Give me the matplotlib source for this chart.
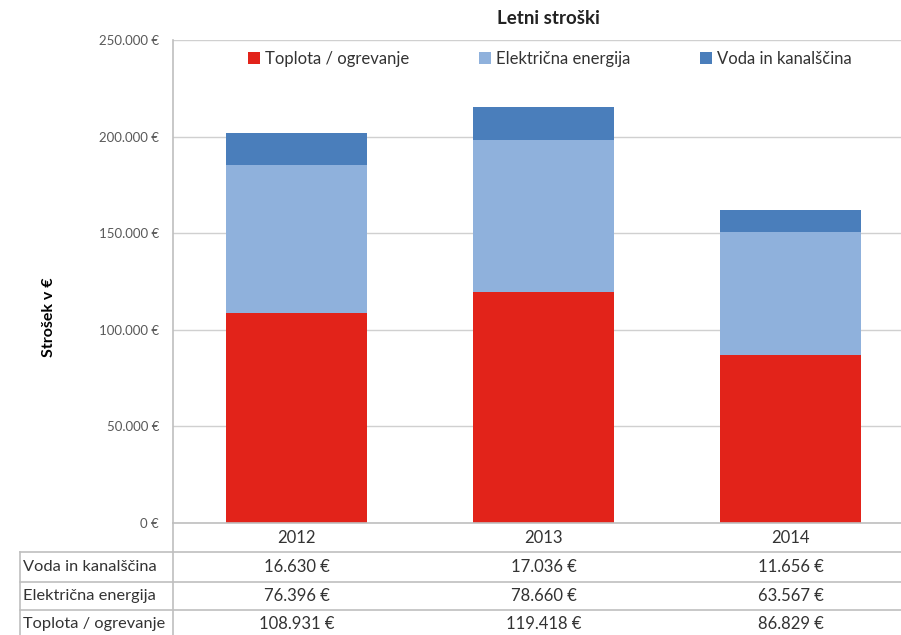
import numpy as np
import matplotlib.pyplot as plt
from matplotlib.ticker import FuncFormatter

plt.rcParams['font.family'] = ['Lato', 'DejaVu Sans']

# data
years = ['2012', '2013', '2014']
toplota = [108931, 119418, 86829]
elektrika = [76396, 78660, 63567]
voda = [16630, 17036, 11656]
series_names = ['Toplota / ogrevanje', 'Električna energija', 'Voda in kanalščina']
colors = ['#E2231A', '#8FB1DC', '#4A7EBB']

W, H = 901, 635
fig = plt.figure(figsize=(W / 100, H / 100), dpi=100)
# plot area in pixels: left 173, top 40, bottom 523, one category = 247 px
left, top, bottom = 173, 40, 523
right = left + 3 * 247
ax = fig.add_axes([left / W, (H - bottom) / H, (right - left) / W, (bottom - top) / H])

x = np.arange(len(years))
bw = 0.57
b1 = np.array(toplota)
b2 = b1 + np.array(elektrika)
ax.bar(x, toplota, bw, color=colors[0], label=series_names[0], zorder=3)
ax.bar(x, elektrika, bw, bottom=b1, color=colors[1], label=series_names[1], zorder=3)
ax.bar(x, voda, bw, bottom=b2, color=colors[2], label=series_names[2], zorder=3)

ax.set_xlim(-0.5, 2.5)
ax.set_ylim(0, 250000)
ax.set_yticks(np.arange(0, 250001, 50000))
fmt = lambda v, p: f"{int(v):,}".replace(",", ".") + " €"
ax.yaxis.set_major_formatter(FuncFormatter(fmt))
ax.tick_params(axis='y', length=0, pad=10, labelsize=9.5, labelcolor='#595959')
ax.set_xticks([])
ax.grid(axis='y', color='#D0D0D0', linewidth=1, zorder=0)
for s in ['top', 'right', 'bottom']:
    ax.spines[s].set_visible(False)
ax.spines['left'].set_color('#BFBFBF')
ax.spines['left'].set_linewidth(1.2)

ax.set_ylabel('Strošek v €', fontsize=11.5, fontweight='bold')
ax.yaxis.set_label_coords((56 - left) / (right - left), (bottom - 317) / (bottom - top))
fig.text(548 / W, 1 - 18 / H, 'Letni stroški', ha='center', va='center',
         fontsize=13.5, fontweight='bold', color='#222222')

leg = ax.legend(loc='upper center', ncol=3, frameon=False, fontsize=12,
                handlelength=0.7, handleheight=0.7, handletextpad=0.3,
                columnspacing=4.2, borderaxespad=0.2)
leg.set_bbox_to_anchor((550 / W, 1 - 41 / H), transform=fig.transFigure)
for t in leg.get_texts():
    t.set_color('#333333')

# data table below the plot
def fy(py):
    return 1 - py / H

line_c = '#BFBFBF'
fig.add_artist(plt.Line2D([left / W, 1], [fy(bottom), fy(bottom)], color=line_c, lw=1.2))
for py in [552, 582, 610]:
    fig.add_artist(plt.Line2D([20 / W, 1], [fy(py), fy(py)], color=line_c, lw=1.2))
fig.add_artist(plt.Line2D([20 / W, 20 / W], [fy(552), 0], color=line_c, lw=1.2))
fig.add_artist(plt.Line2D([left / W, left / W], [fy(bottom), 0], color=line_c, lw=1.2))

trans = ax.get_xaxis_transform()
def ay(py):
    return (bottom - py) / (bottom - top)

for i, yr in enumerate(years):
    ax.text(x[i], ay(538), yr, transform=trans, ha='center', va='center',
            fontsize=12, color='#333333')
rows = [(series_names[2], voda, 567), (series_names[1], elektrika, 596),
        (series_names[0], toplota, 624)]
for name, vals, py in rows:
    fig.text(23 / W, fy(py), name, ha='left', va='center', fontsize=11.8, color='#333333')
    for i, v in enumerate(vals):
        ax.text(x[i], ay(py), fmt(v, None), transform=trans, ha='center', va='center',
                fontsize=12, color='#333333')

fig.savefig('out.png', dpi=100)
